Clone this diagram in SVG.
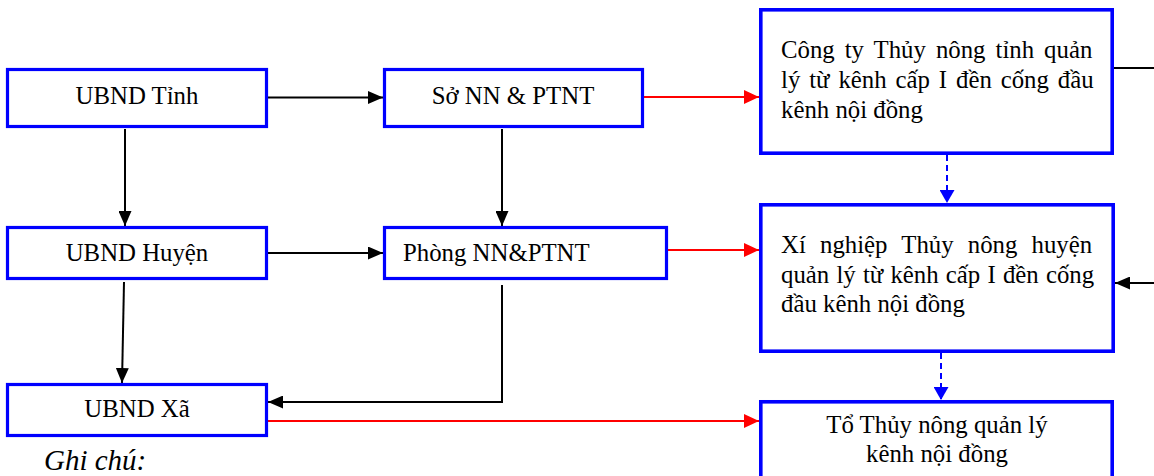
<svg xmlns="http://www.w3.org/2000/svg" width="1154" height="476" viewBox="0 0 1154 476">
  <style>
    .box { fill: #ffffff; stroke: #0000ff; stroke-width: 3.2; }
    .box-lg { fill: #ffffff; stroke: #0000ff; stroke-width: 3.6; }
    .lbl { font-family: "Liberation Serif", "DejaVu Serif", serif; font-size: 24.8px; fill: #000000; }
    .mid { text-anchor: middle; }
    .note { font-family: "Liberation Serif", "DejaVu Serif", serif; font-size: 29px; font-style: italic; fill: #000000; }
    .blk { fill: none; stroke: #000000; stroke-width: 2; }
    .red { fill: none; stroke: #ff0000; stroke-width: 1.8; }
    .dash { fill: none; stroke: #0000ff; stroke-width: 2; stroke-dasharray: 6 4; }
  </style>
  <defs>
    <marker id="ah-black" viewBox="0 0 15 13" refX="15" refY="6.5" markerWidth="15" markerHeight="13" markerUnits="userSpaceOnUse" orient="auto">
      <path d="M0,0 L15,6.5 L0,13 Z" fill="#000000"/>
    </marker>
    <marker id="ah-red" viewBox="0 0 15 14" refX="15" refY="7" markerWidth="15" markerHeight="14" markerUnits="userSpaceOnUse" orient="auto">
      <path d="M0,0 L15,7 L0,14 Z" fill="#ff0000"/>
    </marker>
    <marker id="ah-blue" viewBox="0 0 13 15" refX="13" refY="7.5" markerWidth="13" markerHeight="15" markerUnits="userSpaceOnUse" orient="auto">
      <path d="M0,0 L13,7.5 L0,15 Z" fill="#0000ff"/>
    </marker>
  </defs>

  <!-- connectors -->
  <g id="connectors">
    <!-- administrative line (black) -->
    <line class="blk" x1="268" y1="97.5" x2="383" y2="97.5" marker-end="url(#ah-black)"/>
    <line class="blk" x1="268" y1="253" x2="383" y2="253" marker-end="url(#ah-black)"/>
    <line class="blk" x1="125" y1="129" x2="125" y2="226" marker-end="url(#ah-black)"/>
    <line class="blk" x1="502" y1="129" x2="502" y2="226" marker-end="url(#ah-black)"/>
    <line class="blk" x1="124" y1="282" x2="122" y2="383" marker-end="url(#ah-black)"/>
    <polyline class="blk" points="502,285 502,402 268,402" marker-end="url(#ah-black)"/>
    <line class="blk" x1="1114" y1="68" x2="1160" y2="68"/>
    <line class="blk" x1="1160" y1="283" x2="1115" y2="283" marker-end="url(#ah-black)"/>
    <!-- technical line (red) -->
    <line class="red" x1="644" y1="97" x2="759" y2="97" marker-end="url(#ah-red)"/>
    <line class="red" x1="668" y1="250" x2="759" y2="250" marker-end="url(#ah-red)"/>
    <line class="red" x1="268" y1="421" x2="759" y2="421" marker-end="url(#ah-red)"/>
    <!-- operational line (blue dashed) -->
    <line class="dash" x1="947" y1="155" x2="947" y2="203" marker-end="url(#ah-blue)"/>
    <line class="dash" x1="941" y1="353" x2="941" y2="400" marker-end="url(#ah-blue)"/>
  </g>

  <g id="ubnd-tinh">
    <rect class="box" x="7.5" y="69.5" width="259" height="57"/>
    <text class="lbl mid" x="137" y="104">UBND Tỉnh</text>
  </g>

  <g id="so-nn-ptnt">
    <rect class="box" x="384.5" y="69.5" width="258" height="57"/>
    <text class="lbl mid" x="513" y="104">Sở NN &amp; PTNT</text>
  </g>

  <g id="cong-ty">
    <rect class="box-lg" x="760.8" y="9.8" width="351.4" height="143.4"/>
    <text class="lbl" x="781" y="57.5" word-spacing="3.8">Công ty Thủy nông tỉnh quản</text>
    <text class="lbl" x="781" y="87.5" word-spacing="2.7">lý từ kênh cấp I đền cống đầu</text>
    <text class="lbl" x="781" y="117.5">kênh nội đồng</text>
  </g>

  <g id="ubnd-huyen">
    <rect class="box" x="7.5" y="227.5" width="259" height="51"/>
    <text class="lbl mid" x="137" y="261">UBND Huyện</text>
  </g>

  <g id="phong-nn-ptnt">
    <rect class="box" x="384.5" y="227.5" width="282" height="51"/>
    <text class="lbl" x="403" y="261">Phòng NN&amp;PTNT</text>
  </g>

  <g id="xi-nghiep">
    <rect class="box-lg" x="760.8" y="204.8" width="352.4" height="146.4"/>
    <text class="lbl" x="781" y="253" word-spacing="8">Xí nghiệp Thủy nông huyện</text>
    <text class="lbl" x="781" y="283" word-spacing="1">quản lý từ kênh cấp I đền cống</text>
    <text class="lbl" x="781" y="312">đầu kênh nội đồng</text>
  </g>

  <g id="ubnd-xa">
    <rect class="box" x="7.5" y="384.5" width="259" height="51"/>
    <text class="lbl mid" x="137" y="417">UBND Xã</text>
  </g>

  <g id="to-thuy-nong">
    <rect class="box-lg" x="760.8" y="401.8" width="351.4" height="100"/>
    <text class="lbl mid" x="937" y="433">Tổ Thủy nông quản lý</text>
    <text class="lbl mid" x="937" y="462">kênh nội đồng</text>
  </g>

  <text class="note" x="44" y="470">Ghi chú:</text>
</svg>
